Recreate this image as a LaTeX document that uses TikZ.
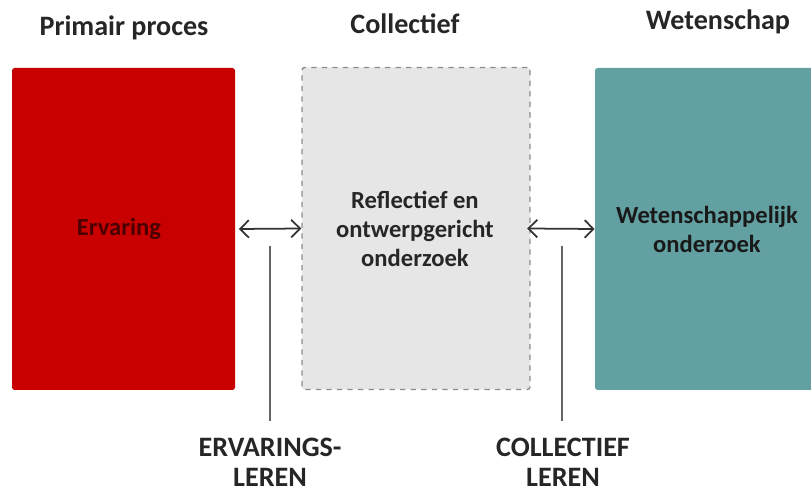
\documentclass[tikz,border=0pt]{standalone}
\usepackage{fontspec}
\setmainfont{Carlito}
\usetikzlibrary{arrows.meta}
\definecolor{ervred}{HTML}{C80000}
\definecolor{ervtext}{HTML}{4A0000}
\definecolor{colgray}{HTML}{E6E6E6}
\definecolor{wetteal}{HTML}{62A0A2}
\tikzset{
  kolom/.style={rounded corners=1.5pt, minimum width=#1, inner sep=0pt, minimum height=322*0.02cm},
  titel/.style={font=\fontsize{16}{18}\selectfont\bfseries, text=black!85},
  binnen/.style={font=\fontsize{14}{16.5}\selectfont\bfseries, align=center},
  leren/.style={font=\fontsize{16}{17}\selectfont\bfseries, align=center, text=black!85},
  pijl/.style={{Straight Barb[length=5pt,width=10pt]}-{Straight Barb[length=5pt,width=10pt]}, line width=1pt, black!80},
  streep/.style={line width=1pt, black!60}
}
\begin{document}
\begin{tikzpicture}[x=0.02cm, y=-0.02cm]
    \useasboundingbox (0,0) rectangle (811,492);
    \node [titel] (t1) at (124,28) {Primair proces};
    \node [titel] (t2) at (405,24) {Collectief};
    \node [titel] (t3) at (718,22) {Wetenschap};
    \node [kolom=223*0.02cm, fill=ervred] (erv) at (123.5,229) {};
    \node [kolom=228*0.02cm, fill=colgray, draw=black!45, dashed, line width=0.8pt] (col) at (416,228.5) {};
    \node [kolom=218*0.02cm, fill=wetteal] (wet) at (704,229) {};
    \node [binnen, text=ervtext] at (119,229) {Ervaring};
    \node [binnen, text=black!85] at (415,229) {Reflectief en\\ontwerpgericht\\onderzoek};
    \node [binnen, text=black!90] at (707,229) {Wetenschappelijk\\onderzoek};
    \draw [pijl] ([xshift=2pt]erv.east) -- (col.west);
    \draw [pijl] ([xshift=-2pt]col.east) -- (wet.west);
    \coordinate (s1) at (270,246);
    \coordinate (e1) at (270,421);
    \coordinate (s2) at (562,246);
    \coordinate (e2) at (562,421);
    \node [leren] (l1) at (270,462) {ERVARINGS-\\LEREN};
    \node [leren] (l2) at (563,462) {COLLECTIEF\\LEREN};
    \draw [streep] (s1) -- (e1);
    \draw [streep] (s2) -- (e2);
\end{tikzpicture}
\end{document}
